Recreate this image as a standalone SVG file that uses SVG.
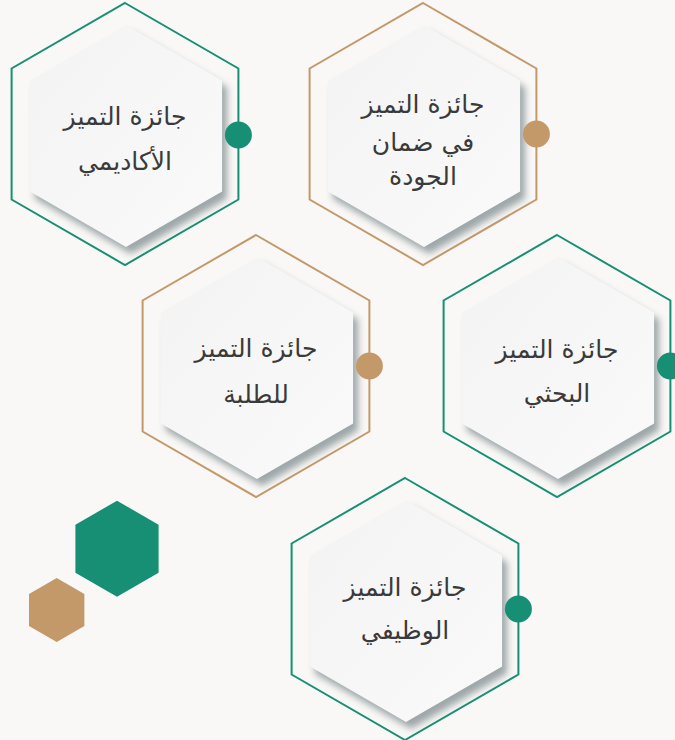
<svg xmlns="http://www.w3.org/2000/svg" xmlns:xlink="http://www.w3.org/1999/xlink" width="675" height="740" viewBox="0 0 675 740">
<defs>
<style>
.bg{fill:#f9f8f6}
.og{fill:none;stroke:#178f74;stroke-width:2}
.ot{fill:none;stroke:#c4996a;stroke-width:2}
.in{fill:url(#ing)}
.sh{fill:#7f8b8f;opacity:.75;filter:url(#blur)}
.dg{fill:#178f74}
.dt{fill:#c4996a}
.t{font-family:"DejaVu Sans",sans-serif;font-size:25px;fill:#3a3a3a;text-anchor:middle}
</style>
<linearGradient id="ing" x1="0" y1="0" x2="1" y2="1">
<stop offset="0" stop-color="#f3f3f3"/>
<stop offset="1" stop-color="#fafafa"/>
</linearGradient>
<filter id="blur" x="-20%" y="-20%" width="140%" height="140%"><feGaussianBlur stdDeviation="3.5"/></filter>
<polygon id="outer" points="0,-131 113.4,-65.5 113.4,65.5 0,131 -113.4,65.5 -113.4,-65.5"/>
<polygon id="inner" points="0,-111 96.1,-55.5 96.1,55.5 0,111 -96.1,55.5 -96.1,-55.5"/>
</defs>
<rect class="bg" x="0" y="0" width="675" height="740"/>
<g id="connectors"/>
<g id="node-academic" transform="translate(125,134)">
<use href="#outer" class="og"/>
<use href="#inner" class="sh" transform="translate(6,9)"/>
<use href="#inner" class="in" transform="translate(1,2)"/>
<circle class="dg" cx="113.4" cy="1" r="13.5"/>
<text class="t" x="0" y="-9">جائزة التميز</text>
<text class="t" x="0" y="36">الأكاديمي</text>
</g>
<g id="node-quality" transform="translate(423,134)">
<use href="#outer" class="ot"/>
<use href="#inner" class="sh" transform="translate(6,9)"/>
<use href="#inner" class="in" transform="translate(1,2)"/>
<circle class="dt" cx="113.4" cy="0" r="13.5"/>
<text class="t" x="0" y="-21">جائزة التميز</text>
<text class="t" x="0" y="17">في ضمان</text>
<text class="t" x="0" y="51">الجودة</text>
</g>
<g id="node-students" transform="translate(256,366)">
<use href="#outer" class="ot"/>
<use href="#inner" class="sh" transform="translate(6,9)"/>
<use href="#inner" class="in" transform="translate(1,2)"/>
<circle class="dt" cx="113.4" cy="0" r="13.5"/>
<text class="t" x="0" y="-9">جائزة التميز</text>
<text class="t" x="0" y="37">للطلبة</text>
</g>
<g id="node-research" transform="translate(557,366)">
<use href="#outer" class="og"/>
<use href="#inner" class="sh" transform="translate(6,9)"/>
<use href="#inner" class="in" transform="translate(1,2)"/>
<circle class="dg" cx="113.4" cy="0" r="13.5"/>
<text class="t" x="0" y="-8">جائزة التميز</text>
<text class="t" x="0" y="36">البحثي</text>
</g>
<g id="node-job" transform="translate(405,609)">
<use href="#outer" class="og"/>
<use href="#inner" class="sh" transform="translate(6,9)"/>
<use href="#inner" class="in" transform="translate(1,2)"/>
<circle class="dg" cx="113.4" cy="0" r="13.5"/>
<text class="t" x="0" y="-13">جائزة التميز</text>
<text class="t" x="0" y="30">الوظيفي</text>
</g>
<g id="deco-green"><polygon class="dg" points="117,500.7 158.6,524.7 158.6,572.7 117,596.7 75.4,572.7 75.4,524.7"/></g>
<g id="deco-tan"><polygon class="dt" points="56.7,578 84.4,594 84.4,626 56.7,642 29,626 29,594"/></g>
</svg>
